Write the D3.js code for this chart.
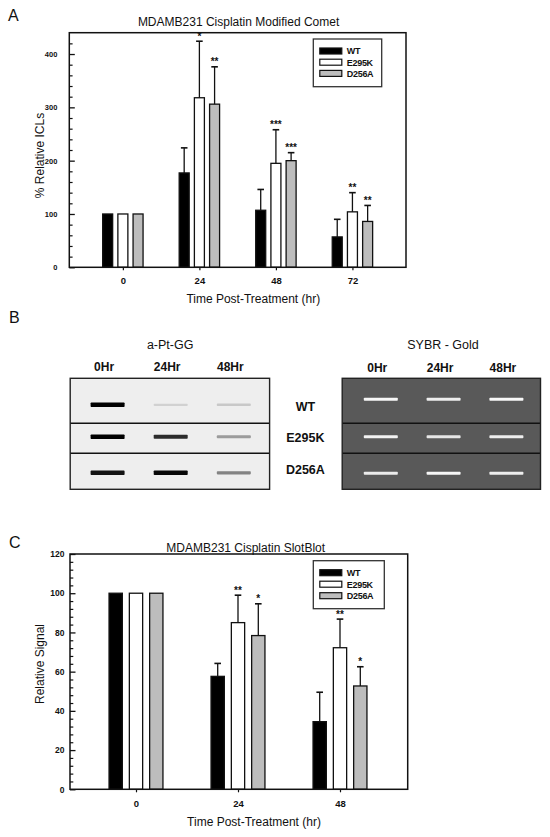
<!DOCTYPE html>
<html><head><meta charset="utf-8">
<script src="https://cdn.jsdelivr.net/npm/d3@7"></script>
<style>body{margin:0;background:#fff}svg{display:block;font-family:"Liberation Sans",Arial,sans-serif}</style>
</head><body>
<svg id="fig" width="550" height="837"></svg>
<script>
// ---------- data ----------
const seriesNames = ["WT", "E295K", "D256A"];
const seriesFill = ["#000000", "#ffffff", "#bdbdbd"];

// Panel A: comet assay
const titleA = "MDAMB231 Cisplatin Modified Comet";
const groupsA = [0, 24, 48, 72];
const wtA = [100, 177, 107, 57];
const wtAErr = [0, 47, 39, 33];
const e295kA = [100, 318, 195, 104];
const e295kAErr = [0, 106, 63, 36];
const d256aA = [100, 306, 200, 86];
const d256aAErr = [0, 70, 15, 30];
const wtAStars = ["", "", "", ""];
const e295kAStars = ["", "*", "***", "**"];
const d256aAStars = ["", "**", "***", "**"];
const yTicksA = [0, 100, 200, 300, 400];

// Panel B: blots
const blotRows = ["WT", "E295K", "D256A"];
const blotTimes = ["0Hr", "24Hr", "48Hr"];
const ptggSignal = [[1.0, 0.12, 0.16], [1.0, 0.82, 0.35], [0.92, 0.97, 0.45]];
const sybrSignal = [[0.95, 0.9, 0.96], [0.92, 0.85, 0.9], [0.88, 0.95, 0.9]];

// Panel C: slot blot
const titleC = "MDAMB231 Cisplatin SlotBlot";
const groupsC = [0, 24, 48];
const wtC = [100, 57.6, 34.5];
const wtCErr = [0, 6.6, 15];
const e295kC = [100, 85, 72.2];
const e295kCErr = [0, 14, 14.6];
const d256aC = [100, 78.4, 52.7];
const d256aCErr = [0, 16.2, 9.8];
const wtCStars = ["", "", ""];
const e295kCStars = ["", "**", "**"];
const d256aCStars = ["", "*", "*"];
const yTicksC = [0, 20, 40, 60, 80, 100, 120];

// ---------- drawing ----------
const svg = d3.select("#fig");
const ink = "#111";

function panelLetter(t, x, y) {
  svg.append("text").attr("x", x).attr("y", y).attr("font-size", 16).attr("fill", ink).text(t);
}

function barPanel(cfg) {
  const g = svg.append("g");
  const x = d3.scaleLinear().domain(cfg.xDomain).range([cfg.left, cfg.right]);
  const y = d3.scaleLinear().domain(cfg.yDomain).range([cfg.bottom, cfg.top]);
  const offsets = [-cfg.step, 0, cfg.step];

  // minor ticks
  const minor = d3.range(cfg.yDomain[0], cfg.yDomain[1], cfg.minorStep).filter(v => !cfg.yTicks.includes(v) && v > 0);
  g.append("g").attr("transform", `translate(${cfg.left},0)`)
    .call(d3.axisLeft(y).tickValues(minor).tickSizeInner(-3.3).tickSizeOuter(0).tickFormat(""))
    .call(a => a.select(".domain").remove())
    .selectAll("line").attr("stroke", ink).attr("stroke-width", 1.2);
  // major y ticks
  g.append("g").attr("transform", `translate(${cfg.left},0)`)
    .call(d3.axisLeft(y).tickValues(cfg.yTicks).tickSizeInner(-5.5).tickSizeOuter(0).tickPadding(cfg.yPad).tickFormat(d3.format("d")))
    .call(a => a.select(".domain").remove())
    .call(a => a.selectAll("line").attr("stroke", ink).attr("stroke-width", 1.3))
    .call(a => a.selectAll("text").attr("font-size", cfg.yFont).attr("font-weight", "bold").attr("fill", ink).attr("font-family", "Liberation Sans, Arial"));
  // x ticks
  g.append("g").attr("transform", `translate(0,${cfg.bottom})`)
    .call(d3.axisBottom(x).tickValues(cfg.groups).tickSizeInner(3).tickSizeOuter(0).tickPadding(cfg.xPad).tickFormat(d3.format("d")))
    .call(a => a.select(".domain").remove())
    .call(a => a.selectAll("line").attr("stroke", ink).attr("stroke-width", 1.2))
    .call(a => a.selectAll("text").attr("font-size", 9.5).attr("font-weight", "bold").attr("fill", ink).attr("font-family", "Liberation Sans, Arial"));

  // bars
  cfg.series.forEach((s, si) => {
    const sg = g.append("g");
    const rows = cfg.groups.map((gv, i) => ({ g: gv, v: s.values[i], e: s.err[i], st: s.stars[i] }));
    sg.selectAll("rect").data(rows).join("rect")
      .attr("x", d => x(d.g) + offsets[si] - cfg.barW / 2)
      .attr("width", cfg.barW)
      .attr("y", d => y(d.v))
      .attr("height", d => y(0) - y(d.v))
      .attr("fill", seriesFill[si]).attr("stroke", ink).attr("stroke-width", 1.3);
    const eb = rows.filter(d => d.e > 0);
    sg.selectAll("line.eb").data(eb).join("line").attr("class", "eb")
      .attr("x1", d => x(d.g) + offsets[si]).attr("x2", d => x(d.g) + offsets[si])
      .attr("y1", d => y(d.v)).attr("y2", d => y(d.v + d.e))
      .attr("stroke", ink).attr("stroke-width", 1.3);
    sg.selectAll("line.cap").data(eb).join("line").attr("class", "cap")
      .attr("x1", d => x(d.g) + offsets[si] - 3.3).attr("x2", d => x(d.g) + offsets[si] + 3.3)
      .attr("y1", d => y(d.v + d.e)).attr("y2", d => y(d.v + d.e))
      .attr("stroke", ink).attr("stroke-width", 1.6);
    sg.selectAll("text").data(rows.filter(d => d.st)).join("text")
      .attr("x", d => x(d.g) + offsets[si]).attr("y", d => y(d.v + d.e) - 1.5)
      .attr("text-anchor", "middle").attr("font-size", 10).attr("font-weight", "bold").attr("fill", ink)
      .text(d => d.st);
  });

  // frame
  g.append("rect").attr("x", cfg.left).attr("y", cfg.top).attr("width", cfg.right - cfg.left).attr("height", cfg.bottom - cfg.top)
    .attr("fill", "none").attr("stroke", ink).attr("stroke-width", 1.5);

  // legend
  const lg = g.append("g");
  lg.append("rect").attr("x", cfg.legend.x).attr("y", cfg.legend.y).attr("width", cfg.legend.w).attr("height", cfg.legend.h)
    .attr("fill", "#fff").attr("stroke", "#333").attr("stroke-width", 1.3);
  seriesNames.forEach((n, i) => {
    const cy = cfg.legend.y + 12 + i * cfg.legend.rowH;
    lg.append("rect").attr("x", cfg.legend.x + 6.5).attr("y", cy - 3).attr("width", 22).attr("height", 6)
      .attr("fill", seriesFill[i]).attr("stroke", ink).attr("stroke-width", 1.2);
    lg.append("text").attr("x", cfg.legend.x + 33.5).attr("y", cy + 3.3).attr("font-size", 9).attr("font-weight", "bold")
      .attr("fill", ink).attr("letter-spacing", -0.3).text(n);
  });

  // titles
  svg.append("text").attr("x", cfg.titleX).attr("y", cfg.titleY).attr("text-anchor", "middle")
    .attr("font-size", 12).attr("fill", ink).text(cfg.title);
  svg.append("text").attr("x", cfg.xTitleX).attr("y", cfg.xTitleY).attr("text-anchor", "middle")
    .attr("font-size", 12).attr("fill", ink).text("Time Post-Treatment (hr)");
  svg.append("text").attr("transform", `translate(${cfg.yTitleX},${cfg.yTitleY}) rotate(-90)`).attr("text-anchor", "middle")
    .attr("font-size", 12).attr("fill", ink).text(cfg.yTitle);
}

// Panel A
panelLetter("A", 8, 21);
barPanel({
  left: 69.3, right: 406, top: 32.7, bottom: 267.3,
  xDomain: [-16.8, 88.8], yDomain: [0, 440], yTicks: yTicksA, minorStep: 20,
  groups: groupsA, step: 15.2, barW: 10, yPad: 12, yFont: 7.5, xPad: 7,
  series: [
    { values: wtA, err: wtAErr, stars: wtAStars },
    { values: e295kA, err: e295kAErr, stars: e295kAStars },
    { values: d256aA, err: d256aAErr, stars: d256aAStars }
  ],
  legend: { x: 313.3, y: 39, w: 68.4, h: 47.7, rowH: 11.2 },
  title: titleA, titleX: 238.6, titleY: 26,
  xTitleX: 253.3, xTitleY: 302.5,
  yTitle: "% Relative ICLs", yTitleX: 43.5, yTitleY: 155.5
});

// Panel B
panelLetter("B", 9, 323);
function blot(cfg) {
  const g = svg.append("g").attr("transform", `translate(${cfg.x},${cfg.y})`);
  const W = cfg.w, H = cfg.h;
  const rowEdges = [0, 45, 75, H];
  g.append("rect").attr("width", W).attr("height", H).attr("fill", cfg.bg);
  const cx = d3.scalePoint().domain(blotTimes).range([cfg.c0, cfg.c1]);
  blotRows.forEach((r, ri) => {
    const yc = (rowEdges[ri] + rowEdges[ri + 1]) / 2 + cfg.yShift[ri];
    blotTimes.forEach((t, ti) => {
      const v = cfg.signal[ri][ti];
      const th = cfg.thick(v);
      g.append("rect").attr("x", cx(t) - 17).attr("y", yc - th / 2).attr("width", 34).attr("height", th)
        .attr("rx", 0.8).attr("fill", cfg.color(v));
    });
  });
  [45, 75].forEach(yy => g.append("line").attr("x1", 0).attr("x2", W).attr("y1", yy).attr("y2", yy)
    .attr("stroke", "#111").attr("stroke-width", 1.6));
  g.append("rect").attr("width", W).attr("height", H).attr("fill", "none").attr("stroke", "#222").attr("stroke-width", 1.4);
  // headers
  svg.append("text").attr("x", cfg.titleX).attr("y", 349).attr("text-anchor", "middle").attr("font-size", 12.5)
    .attr("fill", ink).text(cfg.title);
  blotTimes.forEach(t => svg.append("text").attr("x", cfg.x + cx(t) - 3.5).attr("y", cfg.labY).attr("text-anchor", "middle")
    .attr("font-size", 12).attr("font-weight", "bold").attr("fill", ink).text(t));
}
blot({
  x: 70.2, y: 378.3, w: 199.4, h: 111, bg: "#eeeeee", c0: 37.4, c1: 163.6,
  signal: ptggSignal, color: d3.interpolateRgb("#eeeeee", "#000000"), thick: v => 2 + 2.6 * v,
  yShift: [4, -1.5, 1.5], title: "a-Pt-GG", titleX: 170.2, labY: 370.5
});
blot({
  x: 342.2, y: 378.3, w: 198.3, h: 111, bg: "#595959", c0: 38.6, c1: 164.2,
  signal: sybrSignal, color: d3.interpolateRgb("#595959", "#ffffff"), thick: v => 3,
  yShift: [-1.5, -1.5, 2], title: "SYBR - Gold", titleX: 443, labY: 372
});
blotRows.forEach((r, i) => svg.append("text").attr("x", 305.4).attr("y", [410.5, 441.8, 473.8][i]).attr("text-anchor", "middle")
  .attr("font-size", 12.5).attr("font-weight", "bold").attr("fill", ink).text(r));

// Panel C
panelLetter("C", 9, 548);
barPanel({
  left: 70, right: 407.7, top: 554, bottom: 789.3,
  xDomain: [-15.53, 63.93], yDomain: [0, 120], yTicks: yTicksC, minorStep: 4,
  groups: groupsC, step: 20.3, barW: 13.3, yPad: 5.5, yFont: 8.5, xPad: 7.5,
  series: [
    { values: wtC, err: wtCErr, stars: wtCStars },
    { values: e295kC, err: e295kCErr, stars: e295kCStars },
    { values: d256aC, err: d256aCErr, stars: d256aCStars }
  ],
  legend: { x: 313.3, y: 560.7, w: 71, h: 48, rowH: 11.5 },
  title: titleC, titleX: 245.7, titleY: 552,
  xTitleX: 254, xTitleY: 826,
  yTitle: "Relative Signal", yTitleX: 44, yTitleY: 664
});
</script>
</body></html>
